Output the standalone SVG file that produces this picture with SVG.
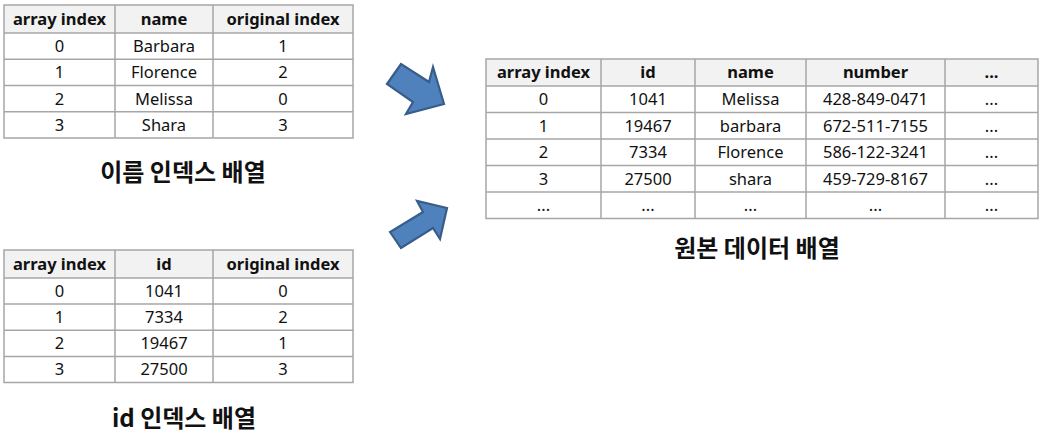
<svg xmlns="http://www.w3.org/2000/svg" width="1047" height="439" viewBox="0 0 1047 439">
<style>
.hd{fill:#f2f2f2;stroke:none}
.ln{stroke:#a6a6a6;stroke-width:1.5;fill:none}
.t{font-family:"Noto Sans","Noto Sans CJK KR",sans-serif;font-size:16.5px;fill:#111;text-anchor:middle}
.b{font-weight:bold}
.ttl{font-family:"Noto Sans CJK KR","Noto Sans",sans-serif;font-size:24px;font-weight:bold;fill:#111;text-anchor:middle}
.arr{fill:#4f81bd;stroke:#385d8a;stroke-width:2.2;stroke-linejoin:miter}
</style>
<rect width="1047" height="439" fill="#ffffff"/>

<g id="name-index-table">
<rect class="hd" x="4" y="5" width="349" height="28"/>
<rect class="ln" x="4" y="5" width="349" height="133"/>
<path class="ln" d="M4 33H353M4 59.3H353M4 85.6H353M4 111.8H353M115 5V138M213 5V138"/>
<text class="t b" x="59.5" y="24.9">array index</text>
<text class="t b" x="164" y="24.9">name</text>
<text class="t b" x="283" y="24.9">original index</text>
<text class="t" x="59.5" y="52">0</text><text class="t" x="164" y="52">Barbara</text><text class="t" x="283" y="52">1</text>
<text class="t" x="59.5" y="78.3">1</text><text class="t" x="164" y="78.3">Florence</text><text class="t" x="283" y="78.3">2</text>
<text class="t" x="59.5" y="104.6">2</text><text class="t" x="164" y="104.6">Melissa</text><text class="t" x="283" y="104.6">0</text>
<text class="t" x="59.5" y="130.8">3</text><text class="t" x="164" y="130.8">Shara</text><text class="t" x="283" y="130.8">3</text>
</g>
<g id="name-index-title"><text class="ttl" x="183" y="181">이름 인덱스 배열</text></g>

<g id="id-index-table">
<rect class="hd" x="4" y="250" width="349" height="28"/>
<rect class="ln" x="4" y="250" width="349" height="132.5"/>
<path class="ln" d="M4 278H353M4 304.1H353M4 330.3H353M4 356.4H353M115 250V382.5M213 250V382.5"/>
<text class="t b" x="59.5" y="269.9">array index</text>
<text class="t b" x="164" y="269.9">id</text>
<text class="t b" x="283" y="269.9">original index</text>
<text class="t" x="59.5" y="296.9">0</text><text class="t" x="164" y="296.9">1041</text><text class="t" x="283" y="296.9">0</text>
<text class="t" x="59.5" y="323.1">1</text><text class="t" x="164" y="323.1">7334</text><text class="t" x="283" y="323.1">2</text>
<text class="t" x="59.5" y="349.2">2</text><text class="t" x="164" y="349.2">19467</text><text class="t" x="283" y="349.2">1</text>
<text class="t" x="59.5" y="375.4">3</text><text class="t" x="164" y="375.4">27500</text><text class="t" x="283" y="375.4">3</text>
</g>
<g id="id-index-title"><text class="ttl" x="184" y="427">id 인덱스 배열</text></g>

<g id="original-data-table">
<rect class="hd" x="486" y="59" width="552" height="27"/>
<rect class="ln" x="486" y="59" width="552" height="159.5"/>
<path class="ln" d="M486 86H1038M486 112.5H1038M486 139H1038M486 165.5H1038M486 192H1038M601 59V218.5M695 59V218.5M806 59V218.5M945 59V218.5"/>
<text class="t b" x="543.5" y="78.4">array index</text>
<text class="t b" x="648" y="78.4">id</text>
<text class="t b" x="750.5" y="78.4">name</text>
<text class="t b" x="875.5" y="78.4">number</text>
<text class="t b" x="991.5" y="78.4">...</text>
<text class="t" x="543.5" y="105.1">0</text><text class="t" x="648" y="105.1">1041</text><text class="t" x="750.5" y="105.1">Melissa</text><text class="t" x="875.5" y="105.1">428-849-0471</text><text class="t" x="991.5" y="105.1">...</text>
<text class="t" x="543.5" y="131.6">1</text><text class="t" x="648" y="131.6">19467</text><text class="t" x="750.5" y="131.6">barbara</text><text class="t" x="875.5" y="131.6">672-511-7155</text><text class="t" x="991.5" y="131.6">...</text>
<text class="t" x="543.5" y="158.1">2</text><text class="t" x="648" y="158.1">7334</text><text class="t" x="750.5" y="158.1">Florence</text><text class="t" x="875.5" y="158.1">586-122-3241</text><text class="t" x="991.5" y="158.1">...</text>
<text class="t" x="543.5" y="184.6">3</text><text class="t" x="648" y="184.6">27500</text><text class="t" x="750.5" y="184.6">shara</text><text class="t" x="875.5" y="184.6">459-729-8167</text><text class="t" x="991.5" y="184.6">...</text>
<text class="t" x="543.5" y="211.2">...</text><text class="t" x="648" y="211.2">...</text><text class="t" x="750.5" y="211.2">...</text><text class="t" x="875.5" y="211.2">...</text><text class="t" x="991.5" y="211.2">...</text>
</g>
<g id="original-data-title"><text class="ttl" x="757" y="257">원본 데이터 배열</text></g>

<g id="connectors">
<polygon class="arr" points="387,84 401,64 429,82 433,67 444,104 406,114 413,102"/>
<polygon class="arr" points="390,232 401,248 433,228 440,239 447,208 417,201 423,212"/>
</g>
</svg>
